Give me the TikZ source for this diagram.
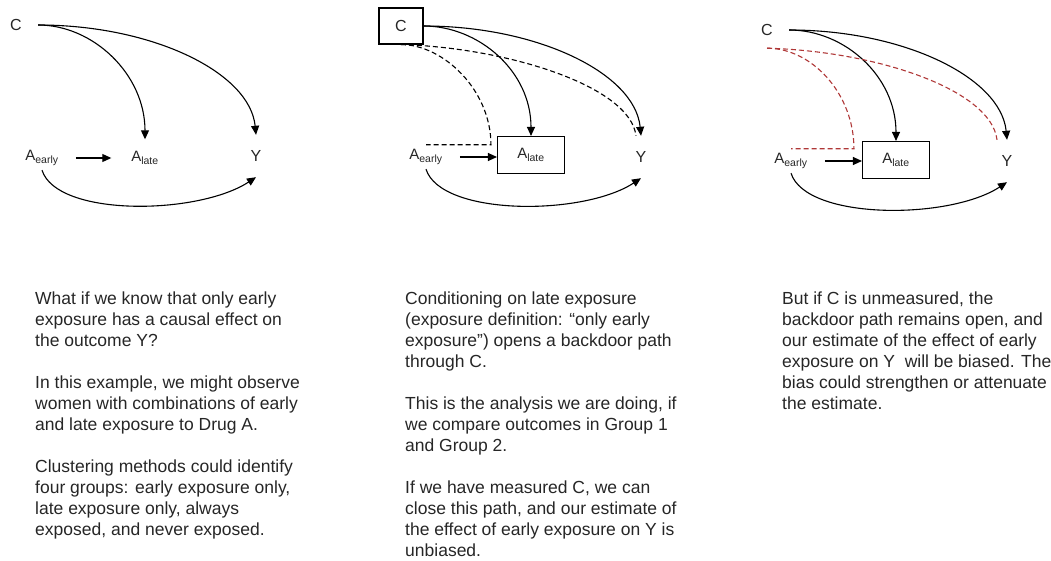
\documentclass[tikz,border=0pt]{standalone}
\usepackage{fontspec}
\setmainfont{Liberation Sans}
\usetikzlibrary{arrows.meta,calc}

\definecolor{pathred}{RGB}{175,55,55}

\begin{document}
\begin{tikzpicture}[x=1pt,y=-1pt,
    every node/.style={text=black!85},
    lbl/.style={inner sep=0pt,font=\fontsize{16}{16}\selectfont},
    cnode/.style={lbl,minimum width=44pt,minimum height=36pt},
    enode/.style={lbl,minimum height=24pt,font=\fontsize{15}{15}\selectfont},
    lnode/.style={lbl,minimum width=67pt,minimum height=37pt,font=\fontsize{15}{15}\selectfont},
    ynode/.style={lbl,minimum height=42pt},
    box/.style={draw,line width=1.1pt},
    arr/.style={line width=1.1pt,-{Triangle[length=9pt,width=8pt]}},
    bdoor/.style={line width=1.1pt,dash pattern=on 5pt off 3pt},
    txt/.style={anchor=north west,inner sep=0pt,align=left,font=\fontsize{17.5}{21}\selectfont}]
    \useasboundingbox (0,0) rectangle (1051,561);

    % panel 1
    \node[cnode] (C1) at (16,25) {C};
    \node[enode] (Ae1) at (42,158) {A\textsubscript{early}};
    \node[lnode] (Al1) at (145,158) {A\textsubscript{late}};
    \node[ynode] (Y1) at (256,156) {Y};
    \draw[arr,shorten <=17pt] (Ae1.east) -- (Ae1.east -| Al1.west);
    \draw[arr] (C1.east) .. controls +(55,0) and +(0,-65) .. (Al1.north);
    \draw[arr] (C1.east) .. controls +(115,0) and +(-6,-62) .. (Y1.north);
    \draw[arr] (Ae1.south) .. controls +(15,47) and +(-58,38) .. (Y1.south);

    % panel 2
    \node[cnode,box] (C2) at (401,26) {C};
    \node[enode] (Ae2) at (426,157) {A\textsubscript{early}};
    \node[lnode,box] (Al2) at (531,155) {A\textsubscript{late}};
    \node[ynode] (Y2) at (641,157) {Y};
    \coordinate (k2) at ($(Al2.west |- Ae2.north)+(-6,0)$);
    \draw[arr,shorten <=17pt] (Ae2.east) -- (Ae2.east -| Al2.west);
    \draw[arr] (C2.east) .. controls +(55,0) and +(0,-65) .. (Al2.north);
    \draw[arr] (C2.east) .. controls +(115,0) and +(-6,-62) .. (Y2.north);
    \draw[arr] (Ae2.south) .. controls +(15,47) and +(-58,38) .. (Y2.south);
    \draw[bdoor] (C2.south) .. controls +(42,0) and +(0,-55) .. (k2) -- (Ae2.north);
    \draw[bdoor] (C2.south) .. controls +(105,3) and +(-6,-50) .. ([xshift=-5pt]Y2.north);

    % panel 3
    \node[cnode] (C3) at (767,30) {C};
    \node[enode] (Ae3) at (791,161) {A\textsubscript{early}};
    \node[lnode,box] (Al3) at (896,160) {A\textsubscript{late}};
    \node[ynode] (Y3) at (1007,161) {Y};
    \coordinate (k3) at ($(Al3.west |- Ae3.north)+(-8,0)$);
    \draw[arr,shorten <=17pt] (Ae3.east) -- (Ae3.east -| Al3.west);
    \draw[arr] (C3.east) .. controls +(55,0) and +(0,-65) .. (Al3.north);
    \draw[arr] (C3.east) .. controls +(115,0) and +(-6,-62) .. (Y3.north);
    \draw[arr] (Ae3.south) .. controls +(15,47) and +(-58,38) .. (Y3.south);
    \draw[bdoor,pathred] (C3.south) .. controls +(45,0) and +(0,-55) .. (k3) -- (Ae3.north);
    \draw[bdoor,pathred] (C3.south) .. controls +(110,3) and +(-6,-50) .. ([xshift=-10pt]Y3.north);

    % text below
    \node[txt] (t1) at (35,292) {What if we know that only early\\
      exposure has a causal effect on\\
      the outcome Y?\\[21pt]
      In this example, we might observe\\
      women with combinations of early\\
      and late exposure to Drug A.\\[21pt]
      Clustering methods could identify\\
      four groups: early exposure only,\\
      late exposure only, always\\
      exposed, and never exposed.};
    \node[txt] (t2) at (405,292) {Conditioning on late exposure\\
      (exposure definition: “only early\\
      exposure”) opens a backdoor path\\
      through C.\\[21pt]
      This is the analysis we are doing, if\\
      we compare outcomes in Group 1\\
      and Group 2.\\[21pt]
      If we have measured C, we can\\
      close this path, and our estimate of\\
      the effect of early exposure on Y is\\
      unbiased.};
    \node[txt] (t3) at (782,292) {But if C is unmeasured, the\\
      backdoor path remains open, and\\
      our estimate of the effect of early\\
      exposure on Y\ \ will be biased. The\\
      bias could strengthen or attenuate\\
      the estimate.};
\end{tikzpicture}
\end{document}
